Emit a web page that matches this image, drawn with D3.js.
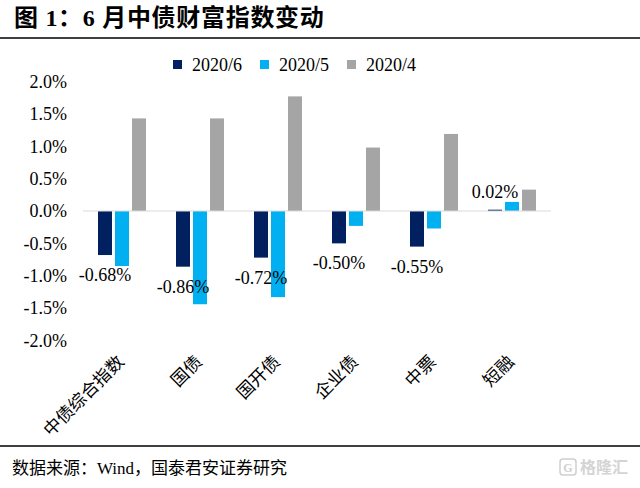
<!DOCTYPE html>
<html>
<head>
<meta charset="utf-8">
<script src="https://cdn.jsdelivr.net/npm/d3@7"></script>
<style>
  html, body { margin: 0; padding: 0; background: #fff; }
  #main { width: 640px; height: 488px; }
  text { font-family: "Liberation Serif", "Noto Sans CJK SC", serif; }
</style>
</head>
<body>
<div id="main"></div>
<script>
const categories = ["中债综合指数", "国债", "国开债", "企业债", "中票", "短融"];
const series = ["2020/6", "2020/5", "2020/4"];
const jun = [-0.68, -0.86, -0.72, -0.50, -0.55, 0.02];
const may = [-0.85, -1.44, -1.33, -0.23, -0.27, 0.14];
const apr = [1.43, 1.43, 1.77, 0.98, 1.19, 0.33];
const yTicks = [2.0, 1.5, 1.0, 0.5, 0.0, -0.5, -1.0, -1.5, -2.0];
const colors = ["#002060", "#00B0F0", "#A5A5A5"];

const values = [jun, may, apr];

const width = 640;
const height = 488;

// plain hyphen for negatives, like the original
const loc = d3.formatLocale({decimal: ".", thousands: ",", grouping: [3], currency: ["", ""], minus: "-"});
const f1 = loc.format(".1f");
const f2 = loc.format(".2f");

const svg = d3.select("#main").append("svg")
  .attr("width", width)
  .attr("height", height);

svg.append("rect")
  .attr("width", width)
  .attr("height", height)
  .attr("fill", "#fff");

// title
svg.append("text")
  .attr("x", 14)
  .attr("y", 26)
  .attr("font-size", 24)
  .attr("font-weight", "bold")
  .attr("letter-spacing", 0.7)
  .attr("fill", "#000")
  .text("图 1：6 月中债财富指数变动");

svg.append("line")
  .attr("x1", 0).attr("x2", width)
  .attr("y1", 38).attr("y2", 38)
  .attr("stroke", "#000")
  .attr("stroke-width", 1.5);

// scales
const x = d3.scaleBand()
  .domain(categories)
  .range([83, 551]);

const xInner = d3.scaleBand()
  .domain(series)
  .range([15, 63])
  .paddingInner(3 / 17);

const y = d3.scaleLinear()
  .domain([-2, 2])
  .range([340.5, 81.5]);

// y axis labels
svg.append("g")
  .attr("transform", "translate(67,0)")
  .call(d3.axisLeft(y).tickValues(yTicks).tickSize(0).tickPadding(0)
    .tickFormat(d => f1(d) + "%"))
  .call(g => g.select(".domain").remove())
  .call(g => g.selectAll("text")
    .attr("font-family", "'Liberation Serif', serif")
    .attr("font-size", 18)
    .attr("fill", "#000"));

// bars
series.forEach((s, si) => {
  svg.append("g")
    .selectAll("rect")
    .data(categories)
    .enter()
    .append("rect")
    .attr("x", c => x(c) + xInner(s))
    .attr("width", xInner.bandwidth())
    .attr("y", (c, i) => y(Math.max(0, values[si][i])))
    .attr("height", (c, i) => Math.abs(y(values[si][i]) - y(0)))
    .attr("fill", colors[si]);
});

// zero line
svg.append("line")
  .attr("x1", x.range()[0]).attr("x2", x.range()[1])
  .attr("y1", y(0)).attr("y2", y(0))
  .attr("stroke", "#d9d9d9")
  .attr("stroke-width", 1);

// data labels for 2020/6
svg.append("g")
  .selectAll("text")
  .data(categories)
  .enter()
  .append("text")
  .attr("x", c => x(c) + xInner(series[0]) + xInner.bandwidth() / 2)
  .attr("y", (c, i) => jun[i] < 0 ? y(jun[i]) + 26 : y(jun[i]) - 12)
  .attr("text-anchor", "middle")
  .attr("font-size", 18)
  .attr("fill", "#000")
  .text((c, i) => f2(jun[i]) + "%");

// x labels
svg.append("g")
  .selectAll("text")
  .data(categories)
  .enter()
  .append("text")
  .attr("transform", c => `translate(${x(c) + x.bandwidth() / 2 + 3}, 363) rotate(-45)`)
  .attr("text-anchor", "end")
  .attr("font-family", "'Noto Sans CJK SC', sans-serif")
  .attr("font-size", 17.5)
  .attr("fill", "#000")
  .text(c => c);

// legend
const legend = svg.append("g")
  .selectAll("g")
  .data(series)
  .enter()
  .append("g")
  .attr("transform", (s, i) => `translate(${[173, 260, 347][i]}, 60)`);

legend.append("rect")
  .attr("width", 9)
  .attr("height", 9)
  .attr("fill", (s, i) => colors[i]);

legend.append("text")
  .attr("x", 19)
  .attr("y", 11)
  .attr("font-size", 18)
  .attr("fill", "#000")
  .text(s => s);

// footer
svg.append("line")
  .attr("x1", 0).attr("x2", width)
  .attr("y1", 446).attr("y2", 446)
  .attr("stroke", "#000")
  .attr("stroke-width", 1.5);

svg.append("text")
  .attr("x", 12)
  .attr("y", 474)
  .attr("font-size", 17)
  .attr("fill", "#000")
  .text("数据来源：Wind，国泰君安证券研究");

// watermark
const wm = svg.append("g").attr("transform", "translate(560, 459)");
wm.append("rect")
  .attr("width", 16).attr("height", 16).attr("rx", 3)
  .attr("fill", "none").attr("stroke", "#cfcfcf").attr("stroke-width", 1.5);
wm.append("text")
  .attr("x", 8).attr("y", 13)
  .attr("text-anchor", "middle")
  .attr("font-family", "'Noto Sans CJK SC', sans-serif")
  .attr("font-size", 12).attr("font-weight", "bold")
  .attr("fill", "#cfcfcf")
  .text("G");
wm.append("text")
  .attr("x", 20).attr("y", 14)
  .attr("font-family", "'Noto Sans CJK SC', sans-serif")
  .attr("font-size", 16).attr("font-weight", "bold")
  .attr("fill", "#d4d4d4")
  .text("格隆汇");
</script>
</body>
</html>
